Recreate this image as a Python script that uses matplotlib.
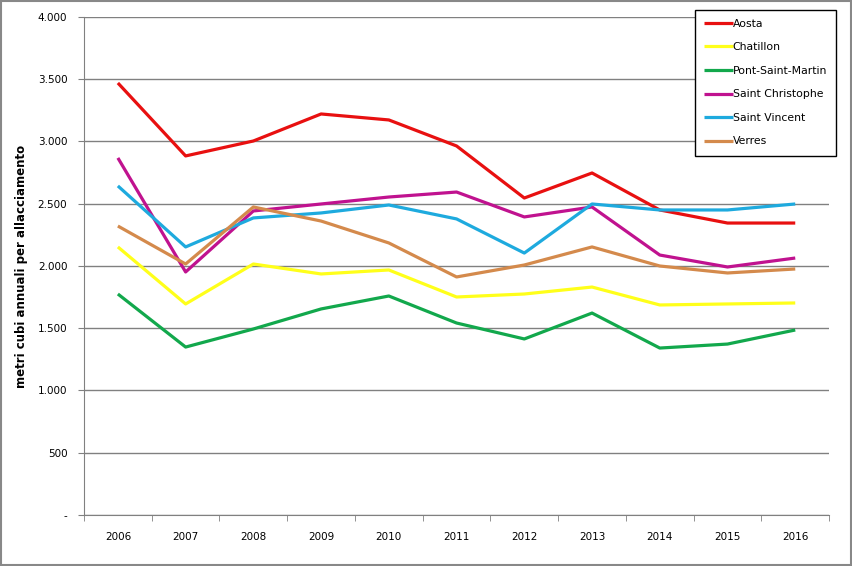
import numpy as np
import matplotlib
matplotlib.use("Agg")
import matplotlib.pyplot as plt
from matplotlib.ticker import FuncFormatter, FixedLocator

years = ["2006", "2007", "2008", "2009", "2010", "2011", "2012", "2013", "2014", "2015", "2016"]

aosta = [3470, 2884, 3004, 3221, 3173, 2964, 2546, 2747, 2450, 2345, 2345]
chatillon = [2153, 1695, 2016, 1936, 1968, 1751, 1775, 1831, 1687, 1695, 1703]
pont_saint_martin = [1775, 1349, 1494, 1655, 1759, 1542, 1414, 1622, 1341, 1373, 1486]
saint_christophe = [2868, 1952, 2442, 2498, 2554, 2594, 2394, 2474, 2088, 1992, 2064]
saint_vincent = [2643, 2153, 2386, 2426, 2490, 2378, 2104, 2498, 2450, 2450, 2498]
verres = [2321, 2016, 2474, 2361, 2185, 1912, 2008, 2153, 2000, 1944, 1976]

series = [
    ("Aosta", aosta, "#e81010"),
    ("Chatillon", chatillon, "#ffff1a"),
    ("Pont-Saint-Martin", pont_saint_martin, "#12a84c"),
    ("Saint Christophe", saint_christophe, "#c0128f"),
    ("Saint Vincent", saint_vincent, "#1eaade"),
    ("Verres", verres, "#d48a4c"),
]

plt.rcParams["font.family"] = ["DejaVu Sans"]

fig = plt.figure(figsize=(8.53, 5.66), dpi=100)
ax = fig.add_axes([0.0985, 0.0901, 0.8735, 0.8799])

x = np.arange(len(years))
for name, vals, col in series:
    ax.plot(x, vals, color=col, lw=2.3, label=name, solid_capstyle="butt")

ax.set_xlim(-0.5, len(years) - 0.5)
ax.set_ylim(0, 4000)
ax.set_yticks(np.arange(0, 4001, 500))
ax.yaxis.set_major_formatter(FuncFormatter(
    lambda v, p: "-" if v == 0 else f"{int(v):,}".replace(",", ".")))
ax.set_xticks(x)
ax.set_xticklabels(years)
ax.xaxis.set_minor_locator(FixedLocator(np.arange(-0.5, len(years), 1)))
ax.tick_params(axis="x", which="major", length=0, pad=12, labelsize=7.5)
ax.tick_params(axis="x", which="minor", length=4, color="#808080", direction="out")
ax.tick_params(axis="y", length=4, color="#808080", labelsize=7.5, pad=8)

ax.grid(axis="y", color="#808080", lw=1)
ax.set_axisbelow(True)
for s in ["top", "right"]:
    ax.spines[s].set_visible(False)
for s in ["left", "bottom"]:
    ax.spines[s].set_color("#808080")

ax.set_ylabel("metri cubi annuali per allacciamento", fontsize=8.5, fontweight="bold")
ax.yaxis.set_label_coords(-0.075, 0.5)

leg = ax.legend(loc="upper right", bbox_to_anchor=(1.0095, 1.015), fontsize=7.8,
                frameon=True, fancybox=False, edgecolor="black", handlelength=2.6,
                handletextpad=0.0, labelspacing=1.25, borderpad=0.85,
                borderaxespad=0)
leg.get_frame().set_linewidth(1.0)
leg.get_frame().set_alpha(1.0)

fig.patches.append(plt.Rectangle((0.001, 0.001), 0.997, 0.997, transform=fig.transFigure,
                                 fill=False, edgecolor="#888888", lw=1.5))

fig.savefig("out.png", dpi=100)
